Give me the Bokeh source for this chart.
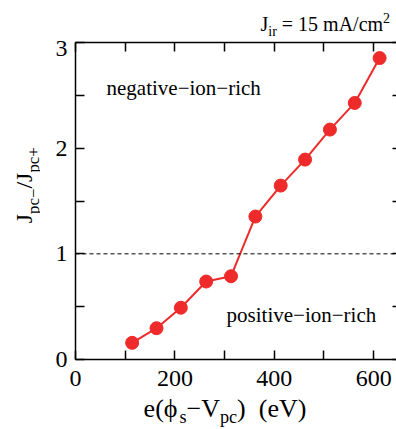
import math
from bokeh.plotting import figure
from bokeh.layouts import column, row
from bokeh.models import (LinearAxis, FixedTicker, Span, Label, Range1d)
from bokeh.embed import file_html
from bokeh.resources import INLINE

# ---- data ----
x_vals = [114, 163, 212, 263, 313, 362, 413, 462, 512, 562, 612]
y_vals = [0.158, 0.296, 0.49, 0.738, 0.788, 1.353, 1.646, 1.892, 2.176, 2.428, 2.853]
x_ticks = [0, 100, 200, 300, 400, 500, 600]
x_tick_labels = {0: "0", 100: "", 200: "200", 300: "", 400: "400", 500: "", 600: "600"}
y_ticks = [0, 0.5, 1, 1.5, 2, 2.5, 3]
y_tick_labels = {0: "0", 0.5: "", 1: "1", 1.5: "", 2: "2", 2.5: "", 3: "3"}
threshold = 1.0

FONT = "Liberation Serif"
RED = "#ee2a2a"
NB = "\u00a0"

W_TOT, H_TOT = 396, 429
TOP_H = 40          # strip above the plot (J_ir label)
LEFT_W = 40         # strip left of the plot (y label)
MAIN_H = 353        # main figure height
BOT_H = H_TOT - TOP_H - MAIN_H

p = figure(width=W_TOT - LEFT_W, height=MAIN_H, output_backend="svg", toolbar_location=None,
           x_range=Range1d(0, 646), y_range=Range1d(0, 3),
           min_border_left=75 - LEFT_W, min_border_top=42 - TOP_H,
           min_border_bottom=TOP_H + MAIN_H - 359, min_border_right=0,
           x_axis_location=None, y_axis_location=None)
p.grid.visible = False
p.outline_line_color = None
p.background_fill_color = "white"
p.border_fill_color = "white"


def make_axis(ticks, labels, show_labels=True, line=True, tick_len=9, standoff=10, size="24px"):
    ax = LinearAxis(ticker=FixedTicker(ticks=ticks, minor_ticks=[]))
    ax.major_label_overrides = labels if show_labels else {t: "" for t in ticks}
    ax.major_tick_in = tick_len
    ax.major_tick_out = 0
    ax.minor_tick_in = 0
    ax.minor_tick_out = 0
    ax.major_tick_line_width = 1.5
    ax.axis_line_width = 1.5
    ax.axis_line_color = "black" if line else None
    ax.major_label_text_font = FONT
    ax.major_label_text_font_size = size if show_labels else "0px"
    ax.major_label_text_color = "black"
    ax.major_label_standoff = standoff if show_labels else 0
    return ax


p.add_layout(make_axis(x_ticks, x_tick_labels, standoff=11), "below")
p.add_layout(make_axis(y_ticks, y_tick_labels, standoff=8), "left")
p.add_layout(make_axis(x_ticks, x_tick_labels, show_labels=False), "above")
p.add_layout(make_axis(y_ticks, y_tick_labels, show_labels=False, line=False, tick_len=4), "right")

p.add_layout(Span(location=threshold, dimension="width", line_color="black",
                  line_width=1, line_dash="4 3"))

p.line(x_vals, y_vals, line_color=RED, line_width=2)
p.scatter(x_vals, y_vals, size=13, fill_color=RED, line_color=RED)


def strip(w, h):
    f = figure(width=w, height=h, output_backend="svg", toolbar_location=None,
               x_range=Range1d(0, w), y_range=Range1d(0, h),
               min_border=0, x_axis_location=None, y_axis_location=None)
    f.grid.visible = False
    f.outline_line_color = None
    f.border_fill_color = "white"
    f.background_fill_color = "white"
    return f


top = strip(W_TOT, TOP_H)
left = strip(LEFT_W, MAIN_H)
bot = strip(W_TOT, BOT_H)

# ---- rich text helper (Times metrics) ----
W = {' ': .25, NB: .25, '(': .333, ')': .333, '/': .278, '=': .564, '0': .5, '1': .5,
     '2': .5, '5': .5, 'A': .722, 'J': .389, 'V': .722, 'c': .444, 'e': .444, 'i': .278,
     'm': .778, 'p': .5, 'r': .333, 's': .389, '\u03d5': .6, '\u2212': .564, '+': .564}
BASE_CORR = 0.4   # Label draws text lower than the requested alphabetic baseline


def tw(s, size):
    return sum(W.get(ch, .5) for ch in s) * size


def rich(fig, pieces, x, y, base, angle=0.0, align="left", sub_shift=0.28):
    # pieces: list of (text, kind) kind in {"n","sub","sup"}
    items = []
    for t, kind in pieces:
        if kind == "n":
            items.append((t, base, 0.0))
        elif kind == "sub":
            items.append((t, base * 0.7, -sub_shift * base))
        else:
            items.append((t, base * 0.7, 0.42 * base))
    total = sum(tw(t, s) for t, s, _ in items)
    adv = -total / 2 if align == "center" else 0.0
    for t, s, sh in items:
        up = sh + BASE_CORR * s
        if angle == 0:
            xo, yo = adv, up
        else:
            xo, yo = -up, adv
        fig.add_layout(Label(x=x, y=y, x_offset=xo, y_offset=yo, text=t, angle=angle,
                             text_font=FONT, text_font_size=f"{s:.1f}px", text_color="black",
                             text_baseline="alphabetic", text_align="left"))
        adv += tw(t, s)


# x label (bottom strip: y measured up from the strip's bottom)
rich(bot, [("e(\u03d5", "n"), ("s", "sub"), ("\u2212V", "n"), ("pc", "sub"),
           (")" + NB + NB + "(eV)", "n")],
     224.5, 11, 26, align="center", sub_shift=0.24)
# y label (left strip)
rich(left, [("J", "n"), ("pc\u2212", "sub"), ("/J", "n"), ("pc+", "sub")],
     33, TOP_H + MAIN_H - 199, 24, angle=math.pi / 2, align="center")
# current density note (top strip)
rich(top, [("J", "n"), ("ir", "sub"), (NB + "=" + NB + "15" + NB + "mA/cm", "n"), ("2", "sup")],
     260, TOP_H - 31, 20)
# region annotations inside the plot
rich(p, [("negative\u2212ion\u2212rich", "n")], 62.4, 2.489, 21)
rich(p, [("positive\u2212ion\u2212rich", "n")], 304, 0.338, 21)

layout = column(top, row(left, p), bot)
open("out.html", "w").write(file_html(layout, INLINE))
